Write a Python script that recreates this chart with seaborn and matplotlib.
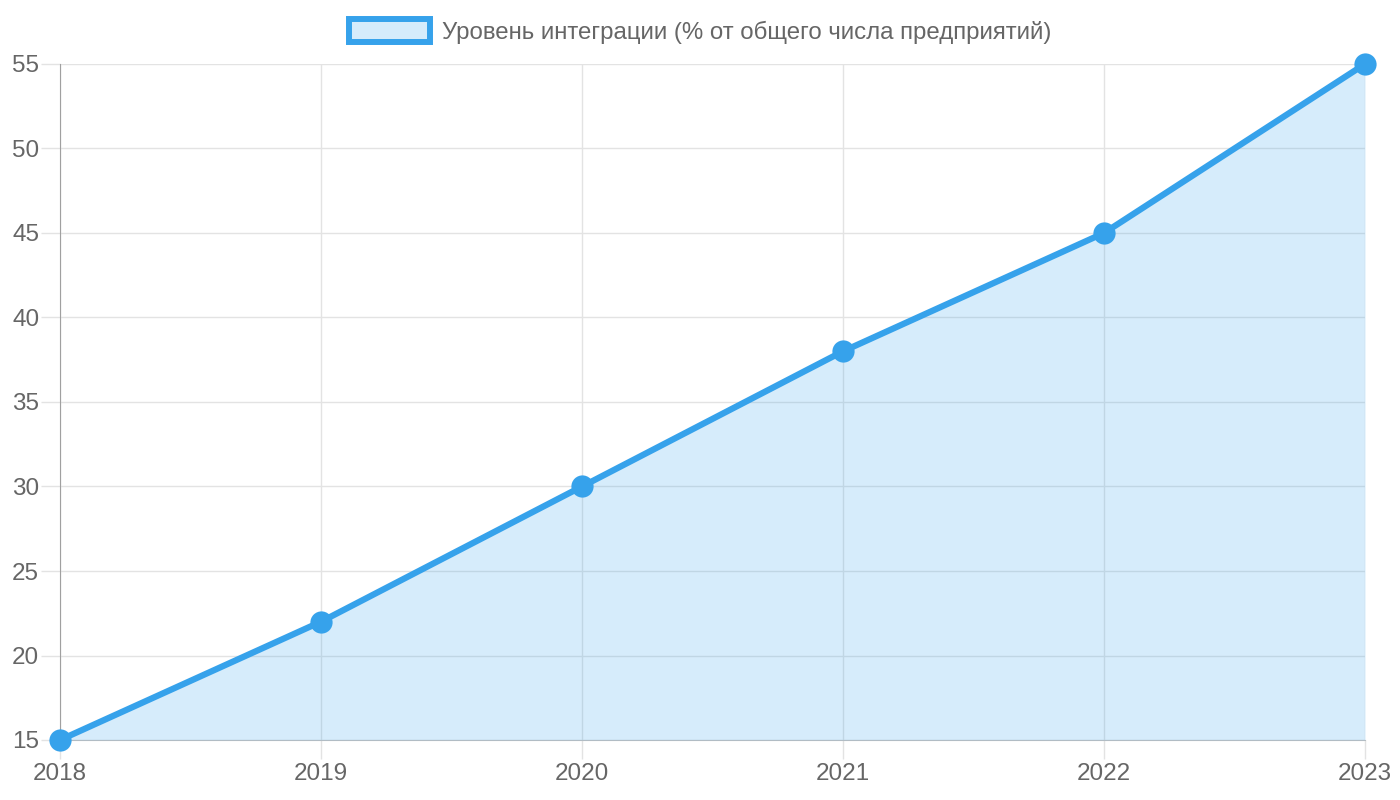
import pandas as pd
import matplotlib
matplotlib.use("Agg")
import matplotlib.pyplot as plt
import seaborn as sns
from matplotlib.patches import Patch

years = [2018, 2019, 2020, 2021, 2022, 2023]
level = [15, 22, 30, 38, 45, 55]
label = "Уровень интеграции (% от общего числа предприятий)"

df = pd.DataFrame({"year": years, "level": level})

sns.set_style("white")
plt.rcParams["font.family"] = ["Liberation Sans", "DejaVu Sans"]

blue = "#36A2EB"
fill = (54 / 255, 162 / 255, 235 / 255, 0.2)
grid = "#e3e3e3"
txt = "#666666"

fig = plt.figure(figsize=(14, 8), dpi=100)
ax = fig.add_axes([60 / 1400, 1 - 740 / 800, 1305 / 1400, 676 / 800])

ax.fill_between(df["year"], df["level"], 15, color=fill, lw=0, zorder=3)
sns.lineplot(data=df, x="year", y="level", ax=ax, color=blue, lw=4.5,
             marker="o", markersize=16, markeredgewidth=0, zorder=4,
             clip_on=False)

ax.set_xlim(2018, 2023)
ax.set_ylim(15, 55)
ax.set_xticks(years)
ax.set_yticks(range(15, 56, 5))
ax.grid(True, color=grid, lw=1, zorder=0)
ax.set_axisbelow(True)
ax.set_xlabel("")
ax.set_ylabel("")

for side in ["top", "right"]:
    ax.spines[side].set_visible(False)
ax.spines["left"].set_color("#a0a0a0")
ax.spines["bottom"].set_color("#c0c0c0")
ax.tick_params(axis="both", bottom=True, left=True, colors=grid,
               labelcolor=txt, labelsize=17.5, length=14, width=1)
ax.tick_params(axis="y", pad=1)
ax.tick_params(axis="x", pad=2.5)

handle = Patch(facecolor=fill, edgecolor=blue, linewidth=4.3)
fig.legend(handles=[handle], labels=[label], loc="center",
           bbox_to_anchor=(0.5, 1 - 31.5 / 800), frameon=False,
           fontsize=17.3, labelcolor=txt, handlelength=3.35,
           handleheight=1.05, handletextpad=0.5, borderpad=0)

fig.savefig("out.png", dpi=100)
